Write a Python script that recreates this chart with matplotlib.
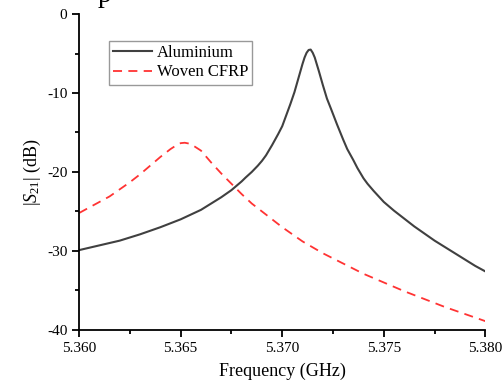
import matplotlib
matplotlib.use("Agg")
import matplotlib.pyplot as plt
from matplotlib.ticker import MultipleLocator, FormatStrFormatter

# frequency (GHz) and |S21| (dB)
freq_al = [5.3600, 5.3610, 5.3620, 5.3630, 5.3640, 5.3650, 5.3660, 5.3665,
           5.3670, 5.3675, 5.3680, 5.3682, 5.3685, 5.3688, 5.3690, 5.3692,
           5.3695, 5.3698, 5.3700, 5.3702, 5.3704, 5.3706, 5.3708, 5.3710,
           5.3711, 5.3712, 5.3713, 5.3714, 5.3715, 5.3716, 5.3718, 5.3720,
           5.3722, 5.3724, 5.3727, 5.3730, 5.3732, 5.3735, 5.3737, 5.3740,
           5.3742, 5.3745, 5.3750, 5.3755, 5.3760, 5.3765, 5.3770, 5.3775,
           5.3780, 5.3785, 5.3790, 5.3795, 5.3800]
s21_al = [-29.9, -29.3, -28.7, -27.9, -27.0, -26.0, -24.8, -24.0,
          -23.2, -22.3, -21.2, -20.7, -20.0, -19.2, -18.6, -17.9,
          -16.6, -15.2, -14.2, -12.8, -11.4, -9.9, -8.1, -6.3,
          -5.5, -4.9, -4.55, -4.5, -4.9, -5.5, -7.2, -9.0,
          -10.7, -12.0, -14.0, -15.9, -17.1, -18.5, -19.5, -20.8,
          -21.5, -22.4, -23.8, -24.9, -25.9, -26.9, -27.8, -28.7,
          -29.5, -30.3, -31.1, -31.9, -32.6]

freq_cfrp = [5.3600, 5.3605, 5.3610, 5.3615, 5.3620, 5.3625, 5.3630, 5.3635,
             5.3640, 5.3645, 5.3648, 5.3650, 5.3652, 5.3654, 5.3657, 5.3660,
             5.3665, 5.3670, 5.3675, 5.3680, 5.3685, 5.3690, 5.3700, 5.3710,
             5.3720, 5.3730, 5.3740, 5.3750, 5.3760, 5.3770, 5.3780, 5.3790,
             5.3800]
s21_cfrp = [-25.2, -24.5, -23.8, -23.1, -22.2, -21.3, -20.3, -19.2,
            -18.1, -17.1, -16.6, -16.35, -16.3, -16.4, -16.8, -17.3,
            -18.8, -20.2, -21.5, -22.8, -24.0, -25.0, -27.0, -28.8,
            -30.3, -31.6, -32.9, -34.0, -35.1, -36.1, -37.1, -38.0,
            -38.9]

plt.rcParams['font.family'] = ['Liberation Serif', 'DejaVu Serif']
plt.rcParams['mathtext.fontset'] = 'custom'
plt.rcParams['mathtext.rm'] = 'Liberation Serif'
plt.rcParams['mathtext.it'] = 'Liberation Serif:italic'
plt.rcParams['axes.unicode_minus'] = False

fig = plt.figure(figsize=(5.04, 3.80), dpi=100)
ax = fig.add_axes([0.157, 0.132, 0.806, 0.831])

ax.plot(freq_al, s21_al, color='#404040', lw=1.5, label='Aluminium')
ax.plot(freq_cfrp, s21_cfrp, color='#ff3333', lw=1.3, ls=(0, (5, 3.5)),
        label='Woven CFRP')

ax.set_xlim(5.360, 5.380)
ax.set_ylim(-40, 0)
ax.xaxis.set_major_locator(MultipleLocator(0.005))
ax.xaxis.set_minor_locator(MultipleLocator(0.0025))
ax.xaxis.set_major_formatter(FormatStrFormatter('%.3f'))
ax.yaxis.set_major_locator(MultipleLocator(10))
ax.yaxis.set_minor_locator(MultipleLocator(5))

for side in ['top', 'right']:
    ax.spines[side].set_visible(False)
for side in ['left', 'bottom']:
    ax.spines[side].set_linewidth(1.3)
ax.tick_params(which='major', direction='out', length=5, width=1.3, labelsize=11)
ax.tick_params(which='minor', direction='out', length=3, width=1.3)

ax.set_xlabel('Frequency (GHz)', fontsize=13, labelpad=6)
ax.set_ylabel('$|S_{21}|$ (dB)', fontsize=13, labelpad=3)

leg = ax.legend(loc='upper left', bbox_to_anchor=(0.074, 0.915), fontsize=12,
                frameon=True, fancybox=False, handlelength=2.3,
                handletextpad=0.3, borderpad=0.25, labelspacing=0.2,
                borderaxespad=0)
leg.get_frame().set_edgecolor('#808080')
leg.get_frame().set_linewidth(1.0)

# caption letter clipped by the top edge, as in the source image
fig.text(0.207, 0.995, 'p', fontsize=20, ha='center', va='baseline')

fig.savefig('out.png', dpi=100)
